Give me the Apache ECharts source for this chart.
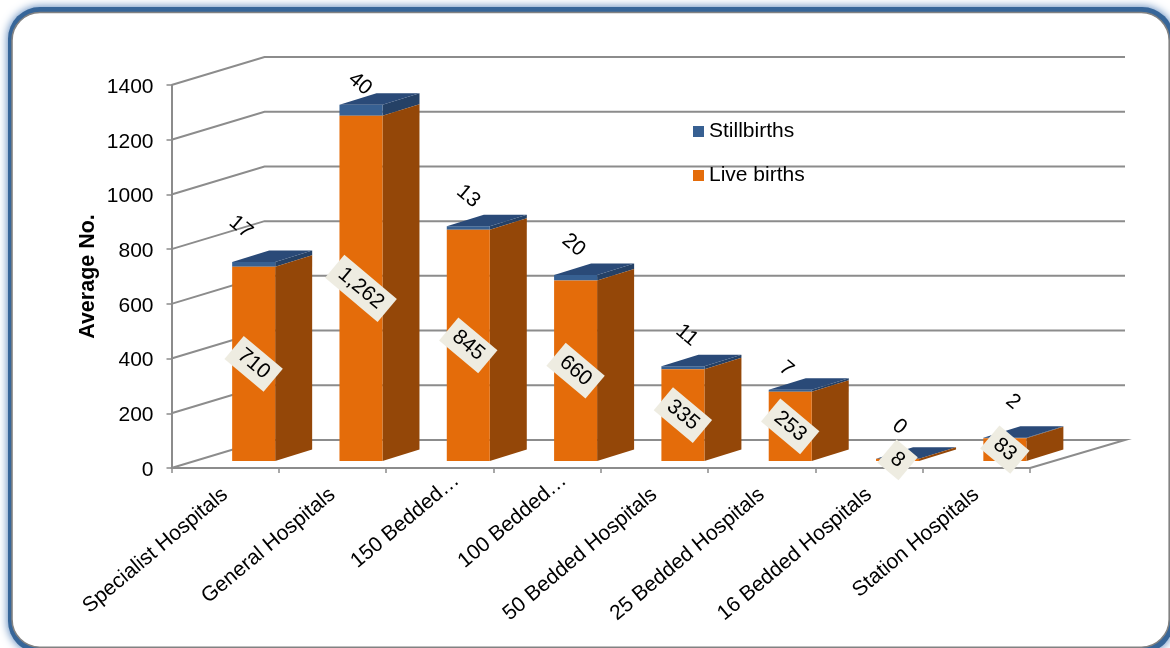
<!DOCTYPE html>
<html>
<head>
<meta charset="utf-8">
<style>html,body{margin:0;padding:0;background:#fff}#c{width:1170px;height:648px}</style>
<script src="https://cdn.jsdelivr.net/npm/echarts@6/dist/echarts.min.js"></script>
</head>
<body>
<div id="c"></div>
<script>
const categories = ['Specialist Hospitals','General Hospitals','150 Bedded…','100 Bedded…','50 Bedded Hospitals','25 Bedded Hospitals','16 Bedded Hospitals','Station Hospitals'];
const liveBirths = [710,1262,845,660,335,253,8,83];
const stillbirths = [17,40,13,20,11,7,0,2];
const yTicks = [0,200,400,600,800,1000,1200,1400];

// drawing styles (not data)
const FONT = 'Liberation Sans, Arial, sans-serif';
const WALL = {dx:93, dy:-28, extraRight:2};
const BAR = {width:43, dx:37, dy:-11.5, shiftX:28.5, shiftY:-7};
const stillLabelNudge = [[-13,-35],[-1,-21],[0,-30],[-2,-30],[4,-31],[-4,-21],[2,-32],[8,-36]];
const LABEL_ROT = -40*Math.PI/180;

function box(api, idx, from, to, front, side, top){
  const c0 = api.coord([idx, from]), c1 = api.coord([idx, to]);
  const xl = c0[0] + BAR.shiftX - BAR.width/2, xr = xl + BAR.width;
  const yb = c0[1] + BAR.shiftY, yt = c1[1] + BAR.shiftY;
  const kids = [
    {type:'polygon', shape:{points:[[xr,yt],[xr+BAR.dx,yt+BAR.dy],[xr+BAR.dx,yb+BAR.dy],[xr,yb]]}, style:{fill:side}},
    {type:'rect', shape:{x:xl,y:yt,width:BAR.width,height:yb-yt}, style:{fill:front}}
  ];
  if(top) kids.push({type:'polygon', shape:{points:[[xl,yt],[xr,yt],[xr+BAR.dx,yt+BAR.dy],[xl+BAR.dx,yt+BAR.dy]]}, style:{fill:top}});
  return {kids, cx:(xl+xr)/2, ym:(yb+yt)/2, yt};
}

const option = {
  animation:false,
  graphic:{elements:[
    {type:'rect', z:-10, silent:true, shape:{x:8,y:7,width:1166,height:646,r:32}, style:{fill:'#376699', shadowBlur:10, shadowColor:'#4a7ab5'}},
    {type:'rect', z:-9, silent:true, shape:{x:12,y:12.5,width:1157.2,height:634.7,r:28}, style:{fill:'#fff', stroke:'#828282', lineWidth:1.6}}
  ]},
  legend:{
    left:693, top:121, padding:0, orient:'vertical', itemWidth:11, itemHeight:11, itemGap:23, icon:'rect',
    data:['Stillbirths','Live births'],
    textStyle:{fontFamily:FONT,fontSize:21,color:'#000'}
  },
  grid:{left:171.5, top:85, width:858.5, height:383},
  xAxis:{
    type:'category', data:categories,
    axisLine:{lineStyle:{color:'#8c8c8c',width:2}},
    axisTick:{show:true,length:5,lineStyle:{color:'#8c8c8c',width:1.5}},
    axisLabel:{rotate:40,interval:0,fontFamily:FONT,fontSize:21,color:'#000',margin:24,
      formatter:v=>v.endsWith('…') ? '{short|'+v+'}' : v,
      rich:{short:{fontFamily:FONT,fontSize:21,color:'#000',padding:[0,-22,0,0]}}},
    splitLine:{show:false}
  },
  yAxis:{
    type:'value', min:0, max:1400, interval:200,
    name:'Average No.', nameLocation:'middle', nameGap:72, nameRotate:90, nameMoveOverlap:false,
    nameTextStyle:{fontFamily:FONT,fontSize:21.5,fontWeight:'bold',color:'#000'},
    axisLine:{show:true,lineStyle:{color:'#8c8c8c',width:2}},
    axisTick:{show:true,length:5,lineStyle:{color:'#8c8c8c',width:1.5}},
    axisLabel:{color:'#000',margin:18,formatter:v=>'{n|'+v+'}',
      rich:{n:{fontFamily:FONT,fontSize:21,color:'#000',padding:[4,0,0,0]}}},
    splitLine:{show:false}
  },
  series:[
    {
      name:'walls', type:'custom', coordinateSystem:'cartesian2d', z:1, silent:true, clip:false,
      data:yTicks.map(v=>[0,v]),
      renderItem(params, api){
        const v = api.value(1), y = api.coord([0,v])[1];
        const x0 = params.coordSys.x, x1 = x0 + params.coordSys.width;
        const pts = [[x0,y],[x0+WALL.dx,y+WALL.dy],[x1+WALL.dx+WALL.extraRight,y+WALL.dy]];
        if(v===0) pts.push([x1,y]);
        return {type:'polyline', shape:{points:pts}, style:{fill:'none',stroke:'#8c8c8c',lineWidth:2}};
      }
    },
    {
      name:'Stillbirths', type:'custom', coordinateSystem:'cartesian2d', z:3, clip:false,
      itemStyle:{color:'#376092'},
      data:stillbirths.map((s,i)=>[i,liveBirths[i],liveBirths[i]+s,s]),
      renderItem(params, api){
        const i = api.value(0);
        const b = box(api,i,api.value(1),api.value(2),'#376092','#254166','#2a4a78');
        const n = stillLabelNudge[i];
        b.kids.push({type:'text', x:b.cx+n[0], y:b.yt+n[1], rotation:LABEL_ROT,
          style:{text:String(api.value(3)),font:'21px '+FONT,fill:'#000',align:'center',verticalAlign:'middle'}});
        return {type:'group',children:b.kids};
      }
    },
    {
      name:'Live births', type:'custom', coordinateSystem:'cartesian2d', z:4, clip:false,
      itemStyle:{color:'#e46c0a'},
      data:liveBirths.map((v,i)=>[i,v]),
      renderItem(params, api){
        const i = api.value(0), v = api.value(1);
        const b = box(api,i,0,v,'#e46c0a','#944708',null);
        b.kids.push({type:'text', x:b.cx, y:b.ym, rotation:LABEL_ROT,
          style:{text:v.toLocaleString('en-US'),font:'21px '+FONT,fill:'#000',align:'center',verticalAlign:'middle',
                 backgroundColor:'#eeece1',padding:[5,8,4,8]}});
        return {type:'group',children:b.kids};
      }
    }
  ]
};
echarts.init(document.getElementById('c'),null,{renderer:'canvas'}).setOption(option);
</script>
</body>
</html>
